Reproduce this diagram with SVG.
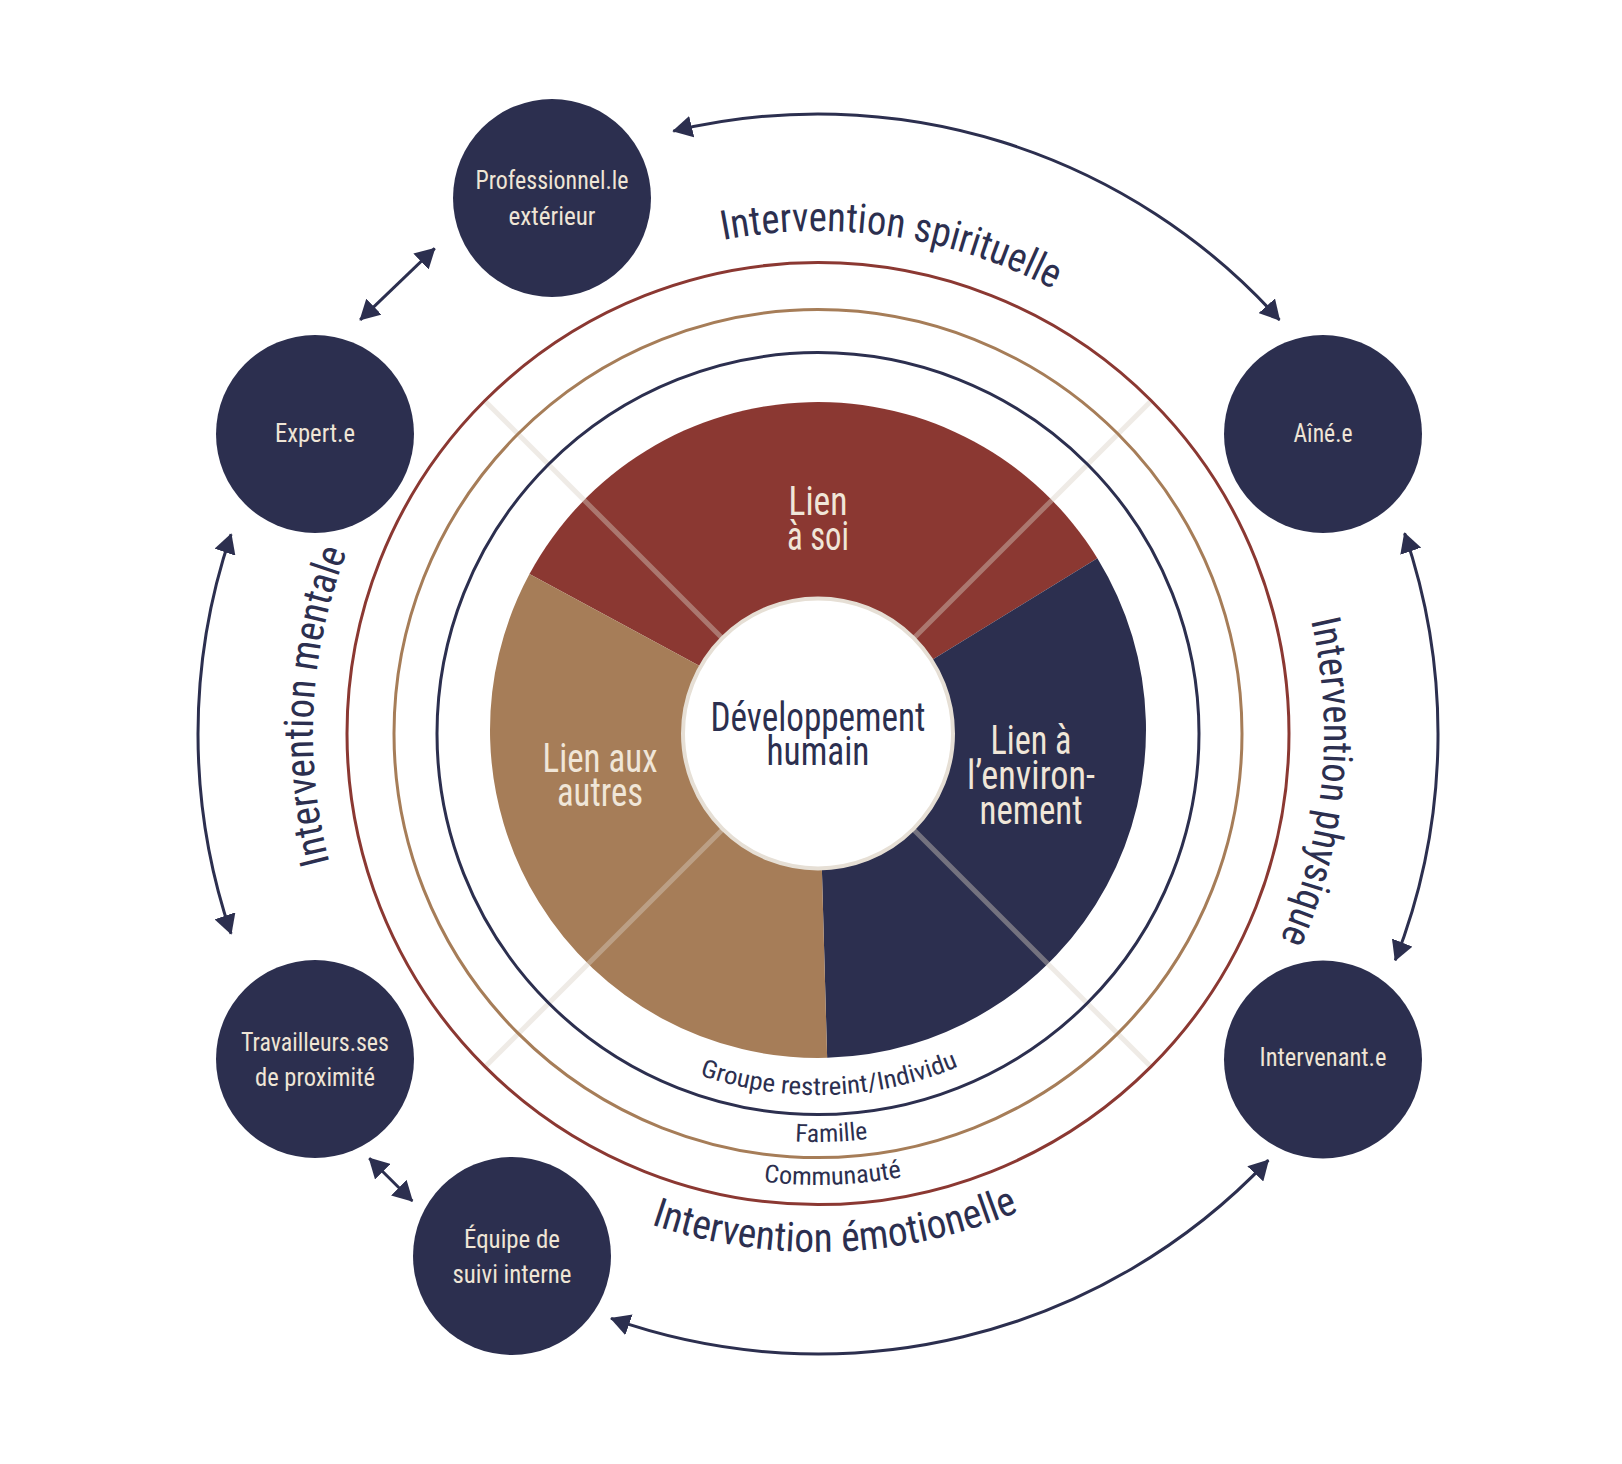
<svg xmlns="http://www.w3.org/2000/svg" width="1622" height="1464" viewBox="0 0 1622 1464">
<style>
text { font-family: 'Roboto Condensed', 'Liberation Sans Narrow', 'DejaVu Sans Condensed', Roboto, 'Liberation Sans', sans-serif; font-stretch: condensed; }
.sat { fill: #2c2f4f; }
.satt { font-size: 25px; fill: #efe5d6; text-anchor: middle; }
.seg { font-size: 40px; fill: #f0e6d8; text-anchor: middle; }
.ctr { font-size: 40px; fill: #2c2f4f; text-anchor: middle; }
.arc { font-size: 41px; fill: #2c2f4f; text-anchor: middle; }
.lvl { font-size: 25px; fill: #2c2f4f; text-anchor: middle; }
.diag { stroke: #d9cfc4; stroke-opacity: 0.42; stroke-width: 5; }
.ring { fill: none; stroke-width: 3; }
.conn { fill: none; stroke: #2c2f4f; stroke-width: 3; marker-start: url(#ah); marker-end: url(#ah); }
</style>
<defs>
<marker id="ah" viewBox="0 0 20 22" refX="19" refY="11" markerWidth="20" markerHeight="22" markerUnits="userSpaceOnUse" orient="auto-start-reverse">
<path d="M0,0 L20,11 L0,22 Z" fill="#2c2f4f"/>
</marker>
<path id="pSpir" d="M555.18,305.12 A503,503 0 0 1 1194.73,400.70"/>
<path id="pPhys" d="M1235.01,447.40 A506,506 0 0 1 1172.66,1094.90"/>
<path id="pMent" d="M413.63,1036.51 A505,505 0 0 1 449.87,388.30"/>
<path id="pEmo" d="M499.09,1142.19 A518,518 0 0 0 1164.61,1118.95"/>
<path id="pGrp" d="M595.25,1018.09 A361,361 0 0 0 1059.09,1002.70"/>
<path id="pFam" d="M566.25,1055.07 A408,408 0 0 0 1090.47,1037.68"/>
<path id="pCom" d="M539.71,1088.91 A451,451 0 0 0 1119.19,1069.68"/>
</defs>
<rect width="1622" height="1464" fill="#ffffff"/>

<g id="wheel">
<path id="seg-soi" d="M818,730 L529.48,573.99 A328,328 0 0 1 1097.37,558.13 Z" fill="#8b3832"/>
<path id="seg-env" d="M818,730 L1097.37,558.13 A328,328 0 0 1 827.16,1057.87 Z" fill="#2c2f4f"/>
<path id="seg-autres" d="M818,730 L827.16,1057.87 A328,328 0 0 1 529.48,573.99 Z" fill="#a67d58"/>
<line class="diag" x1="913.46" y1="829.46" x2="1150.34" y2="1066.34"/>
<line class="diag" x1="722.54" y1="829.46" x2="485.66" y2="1066.34"/>
<line class="diag" x1="722.54" y1="638.54" x2="485.66" y2="401.66"/>
<line class="diag" x1="913.46" y1="638.54" x2="1150.34" y2="401.66"/>
<circle id="ring-communaute" class="ring" cx="818" cy="733.6" r="471" stroke="#8b3832"/>
<circle id="ring-famille" class="ring" cx="818" cy="733.6" r="424" stroke="#a67d58"/>
<circle id="ring-groupe" class="ring" cx="818" cy="733.6" r="381" stroke="#2c2f4f"/>
<text class="seg"><tspan x="818" y="515" textLength="59" lengthAdjust="spacingAndGlyphs">Lien</tspan><tspan x="818" y="550" textLength="62" lengthAdjust="spacingAndGlyphs">à soi</tspan></text>
<text class="seg"><tspan x="600" y="772" textLength="115" lengthAdjust="spacingAndGlyphs">Lien aux</tspan><tspan x="600" y="806" textLength="86" lengthAdjust="spacingAndGlyphs">autres</tspan></text>
<text class="seg"><tspan x="1031" y="753.5" textLength="81" lengthAdjust="spacingAndGlyphs">Lien à</tspan><tspan x="1031" y="788.6" textLength="128" lengthAdjust="spacingAndGlyphs">l’environ-</tspan><tspan x="1031" y="823.7" textLength="103" lengthAdjust="spacingAndGlyphs">nement</tspan></text>
<text class="lvl"><textPath href="#pGrp" startOffset="50%" textLength="265" lengthAdjust="spacingAndGlyphs">Groupe restreint/Individu</textPath></text>
<text class="lvl"><textPath href="#pFam" startOffset="50%" textLength="73" lengthAdjust="spacingAndGlyphs">Famille</textPath></text>
<text class="lvl"><textPath href="#pCom" startOffset="50%" textLength="139" lengthAdjust="spacingAndGlyphs">Communauté</textPath></text>
</g>

<g id="center">
<circle cx="818" cy="733.4" r="135" fill="#ffffff" stroke="#e6dfd5" stroke-width="4"/>
<text class="ctr"><tspan x="818" y="730.5" textLength="215" lengthAdjust="spacingAndGlyphs">Développement</tspan><tspan x="818" y="765" textLength="103" lengthAdjust="spacingAndGlyphs">humain</tspan></text>
</g>

<g id="intervention-labels">
<text class="arc"><textPath href="#pSpir" startOffset="50%" textLength="340" lengthAdjust="spacingAndGlyphs">Intervention spirituelle</textPath></text>
<text class="arc"><textPath href="#pPhys" startOffset="50%" textLength="326" lengthAdjust="spacingAndGlyphs">Intervention physique</textPath></text>
<text class="arc"><textPath href="#pMent" startOffset="50%" textLength="316" lengthAdjust="spacingAndGlyphs">Intervention mentale</textPath></text>
<text class="arc"><textPath href="#pEmo" startOffset="50%" textLength="376" lengthAdjust="spacingAndGlyphs">Intervention émotionelle</textPath></text>
</g>

<g id="connectors">
<path class="conn" d="M673.26,131.13 A620,620 0 0 1 1279.47,319.95"/>
<path class="conn" d="M1404.58,533.17 A620,620 0 0 1 1395.26,960.23"/>
<path class="conn" d="M1268.35,1160.13 A620,620 0 0 1 611.04,1318.44"/>
<path class="conn" d="M231.08,933.81 A620,620 0 0 1 231.08,534.19"/>
<path class="conn" d="M434.7,248.4 L360.2,319.8"/>
<path class="conn" d="M369.3,1158.3 L412.3,1201"/>
</g>

<g id="node-professionnel">
<circle class="sat" cx="552" cy="198" r="99"/>
<text class="satt"><tspan x="552" y="189.3" textLength="153" lengthAdjust="spacingAndGlyphs">Professionnel.le</tspan><tspan x="552" y="225" textLength="87" lengthAdjust="spacingAndGlyphs">extérieur</tspan></text>
</g>
<g id="node-expert">
<circle class="sat" cx="315" cy="434" r="99"/>
<text class="satt" x="315" y="442" textLength="80" lengthAdjust="spacingAndGlyphs">Expert.e</text>
</g>
<g id="node-aine">
<circle class="sat" cx="1323" cy="434" r="99"/>
<text class="satt" x="1323" y="442" textLength="59" lengthAdjust="spacingAndGlyphs">Aîné.e</text>
</g>
<g id="node-travailleurs">
<circle class="sat" cx="315" cy="1059" r="99"/>
<text class="satt"><tspan x="315" y="1051" textLength="148" lengthAdjust="spacingAndGlyphs">Travailleurs.ses</tspan><tspan x="315" y="1086" textLength="120" lengthAdjust="spacingAndGlyphs">de proximité</tspan></text>
</g>
<g id="node-intervenant">
<circle class="sat" cx="1323" cy="1059.5" r="99"/>
<text class="satt" x="1323" y="1066" textLength="127" lengthAdjust="spacingAndGlyphs">Intervenant.e</text>
</g>
<g id="node-equipe">
<circle class="sat" cx="512" cy="1256" r="99"/>
<text class="satt"><tspan x="512" y="1247.7" textLength="96" lengthAdjust="spacingAndGlyphs">Équipe de</tspan><tspan x="512" y="1282.7" textLength="119" lengthAdjust="spacingAndGlyphs">suivi interne</tspan></text>
</g>
</svg>
